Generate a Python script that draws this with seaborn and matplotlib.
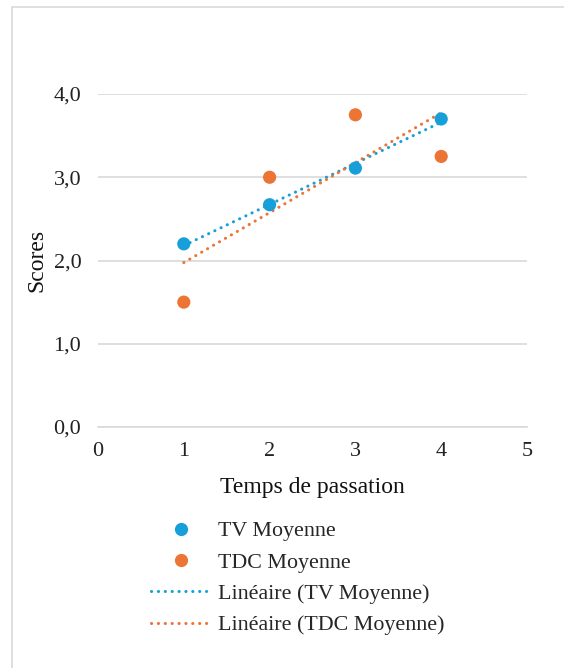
import matplotlib
matplotlib.use('Agg')
import matplotlib.pyplot as plt
import seaborn as sns
import pandas as pd
from matplotlib.lines import Line2D
from matplotlib.patches import Rectangle
from matplotlib.ticker import FuncFormatter

# donnees
temps = [1, 2, 3, 4]
tv_moyenne = [2.20, 2.67, 3.11, 3.70]
tdc_moyenne = [1.50, 3.00, 3.75, 3.25]
series = ['TV Moyenne', 'TDC Moyenne']
x_ticks = [0, 1, 2, 3, 4, 5]
y_ticks = [0, 1, 2, 3, 4]

bleu = '#179fd9'
orange = '#ec7434'
couleurs = {'TV Moyenne': bleu, 'TDC Moyenne': orange}

df = pd.DataFrame({
    'temps': temps * 2,
    'score': tv_moyenne + tdc_moyenne,
    'serie': [series[0]] * 4 + [series[1]] * 4,
})

sns.set_style('white')
plt.rcParams['font.family'] = ['Liberation Serif', 'DejaVu Serif']

fig = plt.figure(figsize=(5.64, 6.68), dpi=100)
ax = fig.add_axes([98/564, 1-427/668, (527-98)/564, (427-94)/668])

dots = (0, (0.05, 2.2))

# lignes de tendance lineaires
for s in series:
    sub = df[df['serie'] == s]
    sns.regplot(data=sub, x='temps', y='score', ax=ax, scatter=False, ci=None,
                truncate=True, color=couleurs[s],
                line_kws={'ls': dots, 'lw': 2.2, 'dash_capstyle': 'round', 'zorder': 2})

sns.scatterplot(data=df, x='temps', y='score', hue='serie', palette=couleurs,
                s=90, edgecolor='none', ax=ax, legend=False, zorder=3)

ax.set_xlim(0, 5)
ax.set_ylim(0, 4)
ax.set_xticks(x_ticks)
ax.set_yticks(y_ticks)
ax.yaxis.set_major_formatter(FuncFormatter(lambda v, p: f'{v:.1f}'.replace('.', ',')))
ax.grid(axis='y', color='#d9d9d9', lw=1.2)
ax.set_axisbelow(True)
for sp in ['top', 'right', 'left']:
    ax.spines[sp].set_visible(False)
ax.spines['bottom'].set_color('#d9d9d9')
ax.spines['bottom'].set_linewidth(1.2)
ax.tick_params(axis='both', length=0, labelsize=16, colors='#222222')
ax.tick_params(axis='y', pad=12)
ax.tick_params(axis='x', pad=10.5)
ax.set_xlabel('Temps de passation', fontsize=17, labelpad=11.5, color='#111111')
ax.set_ylabel('Scores', fontsize=17, labelpad=4.5, color='#111111')

handles = [
    Line2D([], [], ls='none', marker='o', ms=9.5, color=bleu, mec='none'),
    Line2D([], [], ls='none', marker='o', ms=9.5, color=orange, mec='none'),
    Line2D([], [], ls=dots, lw=2.2, color=bleu, dash_capstyle='round'),
    Line2D([], [], ls=dots, lw=2.2, color=orange, dash_capstyle='round'),
]
labels = ['TV Moyenne', 'TDC Moyenne', 'Linéaire (TV Moyenne)', 'Linéaire (TDC Moyenne)']
fig.legend(handles, labels, loc='upper left', bbox_to_anchor=(151/564, 1-521/668),
           frameon=False, fontsize=15.8, handlelength=2.75, handletextpad=0.3,
           labelspacing=0.5, borderpad=0, borderaxespad=0)

# cadre de la zone de graphique
fig.patches.append(Rectangle((12/564, -0.05), 1.2, 1-7/668+0.05, transform=fig.transFigure,
                             fill=False, ec='#d9d9d9', lw=1.2))

fig.savefig('out.png', dpi=100)
